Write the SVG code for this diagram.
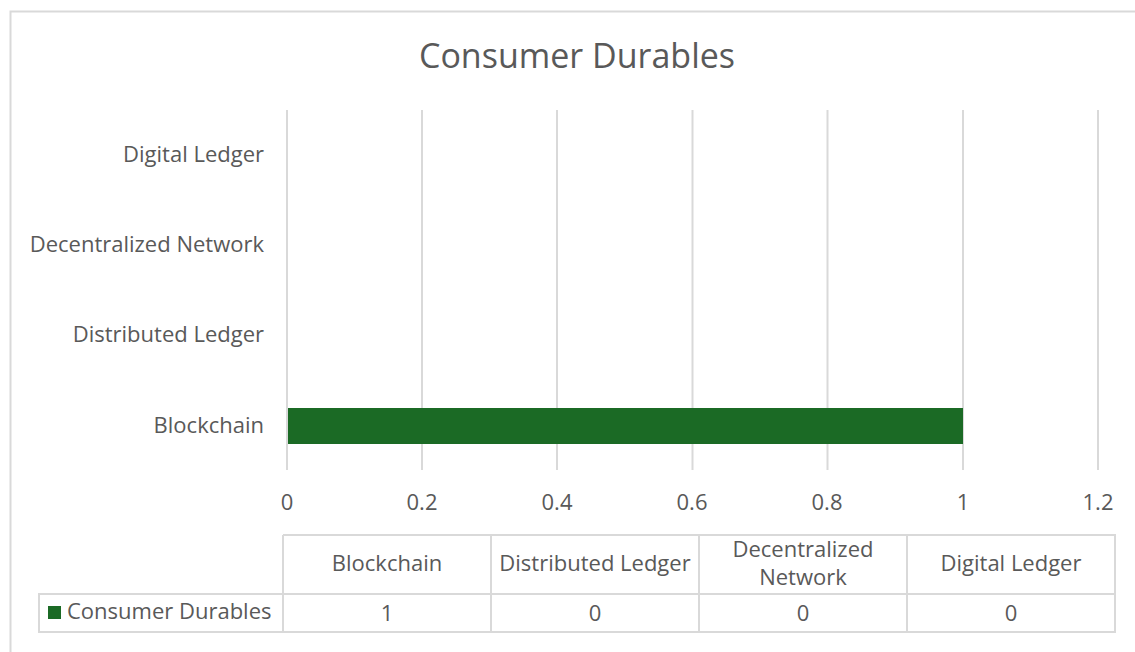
<svg xmlns="http://www.w3.org/2000/svg" width="1135" height="652" viewBox="0 0 1135 652">
  <style>
    text { font-family: "Open Sans", "Liberation Sans", sans-serif; fill: #595959; font-size: 22px; }
    .title { font-size: 34px; text-anchor: middle; }
    .cat { text-anchor: end; }
    .mid { text-anchor: middle; }
    .grid { stroke: #d9d9d9; stroke-width: 2; }
    .tbl { fill: none; stroke: #d9d9d9; stroke-width: 2; }
  </style>
  <rect x="0" y="0" width="1135" height="652" fill="#ffffff"/>
  <!-- chart frame -->
  <rect x="10.5" y="11.5" width="1140" height="660" fill="#ffffff" stroke="#d9d9d9" stroke-width="2"/>

  <text class="title" x="577" y="68">Consumer Durables</text>

  <!-- vertical gridlines -->
  <g id="gridlines">
    <line class="grid" x1="287" y1="110" x2="287" y2="470"/>
    <line class="grid" x1="422" y1="110" x2="422" y2="470"/>
    <line class="grid" x1="557" y1="110" x2="557" y2="470"/>
    <line class="grid" x1="692.5" y1="110" x2="692.5" y2="470"/>
    <line class="grid" x1="827.5" y1="110" x2="827.5" y2="470"/>
    <line class="grid" x1="963" y1="110" x2="963" y2="470"/>
    <line class="grid" x1="1098" y1="110" x2="1098" y2="470"/>
  </g>

  <!-- category labels -->
  <g id="categories">
    <text class="cat" x="264" y="162">Digital Ledger</text>
    <text class="cat" x="264" y="252">Decentralized Network</text>
    <text class="cat" x="264" y="342">Distributed Ledger</text>
    <text class="cat" x="264" y="433">Blockchain</text>
  </g>

  <!-- data bar -->
  <rect id="bar-blockchain" x="288" y="408" width="675" height="36" fill="#1b6a25"/>

  <!-- value axis -->
  <g id="ticks">
    <text class="mid" x="287" y="510">0</text>
    <text class="mid" x="422" y="510">0.2</text>
    <text class="mid" x="557" y="510">0.4</text>
    <text class="mid" x="692" y="510">0.6</text>
    <text class="mid" x="827" y="510">0.8</text>
    <text class="mid" x="963" y="510">1</text>
    <text class="mid" x="1098" y="510">1.2</text>
  </g>

  <!-- data table -->
  <g id="data-table">
    <path class="tbl" d="M283 535 H1115 V632 H39 V594 H1115 M283 535 V632 M491 535 V632 M699 535 V632 M907 535 V632 M39 594 H283"/>
    <text class="mid" x="387" y="571">Blockchain</text>
    <text class="mid" x="595" y="571">Distributed Ledger</text>
    <text class="mid" x="803" y="557">Decentralized</text>
    <text class="mid" x="803" y="585">Network</text>
    <text class="mid" x="1011" y="571">Digital Ledger</text>
    <rect x="48" y="606" width="13" height="13" fill="#1b6a25"/>
    <text x="67" y="619">Consumer Durables</text>
    <text class="mid" x="387" y="621">1</text>
    <text class="mid" x="595" y="621">0</text>
    <text class="mid" x="803" y="621">0</text>
    <text class="mid" x="1011" y="621">0</text>
  </g>
</svg>
